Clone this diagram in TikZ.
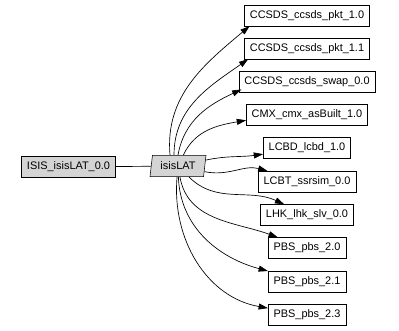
\documentclass[tikz,border=0pt]{standalone}
\usepackage{fontspec}
\setmainfont{Liberation Sans}
\usetikzlibrary{arrows.meta, shapes.geometric}

\tikzset{
  mod/.style={draw, rectangle, inner xsep=4pt, inner ysep=0pt, minimum height=15.5pt,
    font=\fontsize{8.2}{10}\selectfont},
  cur/.style={mod, fill=black!17},
  grp/.style={draw, fill=black!17, trapezium, trapezium left angle=73,
    trapezium right angle=107, trapezium stretches body, inner xsep=4pt, inner ysep=0pt,
    minimum height=16pt, minimum width=42pt, font=\fontsize{8.2}{10}\selectfont},
  dep/.style={-{Triangle[length=7pt,width=4.5pt]}, line width=0.5pt}
}

\begin{document}
\begin{tikzpicture}[x=0.75pt, y=-0.75pt]
			\useasboundingbox (0,0) rectangle (399,331);
			% Group node and its parent
			\node[cur] (isis) at (68.5,167) {ISIS\_isisLAT\_0.0};
			\node[grp] (lat) at (178,166) {isisLAT};
			\draw[line width=0.5pt] (isis) -- (lat);
			% Member modules
			\node[mod] (c1) at (307,15.5) {CCSDS\_ccsds\_pkt\_1.0};
			\node[mod] (c2) at (307,48.5) {CCSDS\_ccsds\_pkt\_1.1};
			\node[mod] (c3) at (307,81.5) {CCSDS\_ccsds\_swap\_0.0};
			\node[mod] (c4) at (307,115) {CMX\_cmx\_asBuilt\_1.0};
			\node[mod] (c5) at (307,148) {LCBD\_lcbd\_1.0};
			\node[mod] (c6) at (307,181.5) {LCBT\_ssrsim\_0.0};
			\node[mod] (c7) at (307,215) {LHK\_lhk\_slv\_0.0};
			\node[mod] (c8) at (307,248) {PBS\_pbs\_2.0};
			\node[mod] (c9) at (307,281.5) {PBS\_pbs\_2.1};
			\node[mod] (c10) at (307,315) {PBS\_pbs\_2.3};
			% Dependencies to the upper modules
			\draw[dep] ([xshift=-6pt]lat.north) to[out=95, in=220] ([xshift=4pt]c1.south west);
			\draw[dep] ([xshift=-3pt]lat.north) to[out=90, in=215] ([xshift=3pt]c2.south west);
			\draw[dep] (lat.north) to[out=80, in=205] ([xshift=2pt,yshift=2pt]c3.south west);
			\draw[dep] ([xshift=4pt]lat.north) to[out=65, in=190] ([yshift=4pt]c4.south west);
			% Dependencies to the lower modules
			\foreach \n/\o/\i in {c5/12/188, c6/-12/165, c7/-45/155, c8/-80/160,
				c9/-88/165, c10/-95/170}
				\draw[dep] (lat) to[out=\o, in=\i] (\n);
		\end{tikzpicture}
\end{document}
